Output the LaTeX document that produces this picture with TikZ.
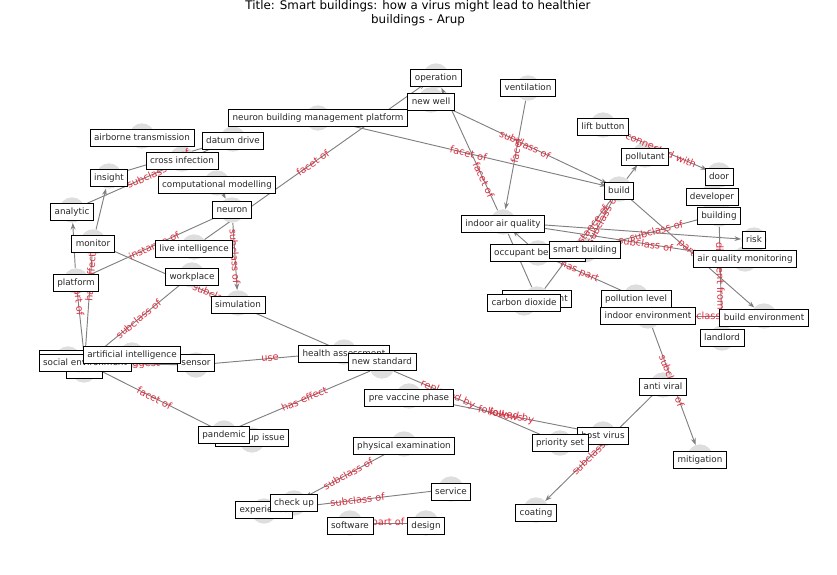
\documentclass[tikz,border=0pt]{standalone}
\usepackage{fontspec}
\setmainfont{DejaVu Sans}
\usetikzlibrary{arrows.meta}

\definecolor{edgegray}{RGB}{128,128,128}
\definecolor{dotgray}{RGB}{222,222,222}
\definecolor{relred}{RGB}{222,45,62}
\definecolor{boxtext}{RGB}{40,40,40}

\pgfdeclarelayer{edgelayer}
\pgfdeclarelayer{dotlayer}
\pgfdeclarelayer{boxlayer}
\pgfsetlayers{edgelayer,dotlayer,main,boxlayer}

\newcommand{\boxfont}{\fontsize{6.6}{7.5}\selectfont}
\newcommand{\relfont}{\fontsize{7.4}{8.5}\selectfont}
\newcommand{\titlefont}{\fontsize{8.9}{10.5}\selectfont}

\tikzset{
	concept/.style={circle, fill=dotgray, inner sep=0pt, minimum size=19pt},
	term/.style={draw=black, fill=white, line width=0.6pt, text=boxtext, font=\boxfont,
		inner xsep=3pt, inner ysep=3.1pt, text height=5pt, text depth=1.5pt},
	rel/.style={draw=edgegray, line width=0.7pt},
	relarrow/.style={rel, -{Stealth[length=5pt, width=3.6pt]}},
	rellabel/.style={text=relred, font=\relfont, sloped, inner sep=0pt},
}

% edge under the dots, label above them
\newcommand{\relate}[5][rel]{%
	\begin{pgfonlayer}{edgelayer}\draw[#1] (#2) -- (#3);\end{pgfonlayer}
	\path (#2) -- node[rellabel, pos=#4] {#5} (#3);}

\begin{document}
\begin{tikzpicture}[x=0.75pt, y=-0.75pt]
	\useasboundingbox (0,0) rectangle (837,574);
	
	% title
	\node[font=\titlefont, align=center] (title) at (418,13)
		{Title: Smart buildings: how a virus might lead to healthier\\buildings - Arup};
	
	% concepts
	\begin{pgfonlayer}{dotlayer}
	\foreach \n/\x/\y in {op/436/76, nw/431/100, vent/528/88, nbmp/318/118,
		air/142/136, dd/233/139, lift/603/125, cross/182/159, poll/645/155,
		ins/109/176, door/719/175, cm/217/183, build/619/189, dev/712/197,
		ana/72/210, neu/232/210, bldg/719/214, iaq/503/222, mon/93/242,
		li/194/247, risk/754/240, occ/538/253, sb/585/250, aqm/745/259,
		work/192/275, plat/76/281, pl/636/297, meas/537/299, co2/524/303,
		sim/238/303, ie/648/316, be/764/316, land/722/338, ha/344/352,
		tech/68/359, health/84/370, se/85/363, sensor/196/365, ai/132/355,
		ns/382/366, av/663/385, pvp/409/396, issue/252/440, pan/224/433,
		pe/404/444, hv/603/434, ps/560/443, mit/700/457, serv/451/489,
		exp/264/511, cu/294/503, coat/536/510, soft/350/523, design/426/523}
		\node[concept] (\n) at (\x,\y) {};
	\end{pgfonlayer}
	
	% relations, top
	\relate[relarrow]{li}{op}{.49}{facet of}
	\relate[relarrow]{nbmp}{build}{.5}{facet of}
	\relate[relarrow]{nw}{build}{.5}{subclass of}
	\relate[relarrow]{iaq}{op}{.25}{facet of}
	\relate[relarrow]{vent}{iaq}{.46}{facet}
	\relate[relarrow]{lift}{door}{.5}{connected with}
	\relate[relarrow]{build}{poll}{.5}{}
	
	% relations, right
	\relate{sb}{build}{.5}{subclass of}
	\relate{meas}{build}{.68}{instance of}
	\relate[relarrow]{build}{be}{.5}{part of}
	\relate{bldg}{land}{.5}{different from}
	\relate{sb}{bldg}{.54}{subclass of}
	\relate[relarrow]{iaq}{risk}{.5}{}
	\relate{iaq}{aqm}{.6}{subclass of}
	\relate[relarrow]{occ}{iaq}{.5}{}
	\relate{iaq}{meas}{.5}{}
	\relate{occ}{pl}{.4}{has part}
	\relate[relarrow]{ie}{mit}{.45}{subclass of}
	\relate{ie}{be}{.5}{subclass of}
	\relate[relarrow]{av}{coat}{.56}{subclass of}
	
	% relations, middle
	\relate{ns}{ps}{.35}{replaced by}
	\relate{pvp}{hv}{.5}{follows}
	\path (pvp) -- node[rellabel, pos=.5] {followed by} (hv);
	\relate{pan}{ns}{.51}{has effect}
	\relate{pan}{issue}{.5}{}
	\relate{ha}{ns}{.5}{}
	\relate{sensor}{ha}{.5}{use}
	\relate{mon}{ha}{.5}{subclass of}
	
	% relations, left
	\relate{se}{pan}{.5}{facet of}
	\relate{se}{sensor}{.5}{suggest}
	\relate{se}{work}{.5}{subclass of}
	\relate{health}{mon}{.78}{has effect}
	\relate{se}{plat}{.91}{part of}
	\relate[relarrow]{mon}{ins}{.5}{}
	\relate[relarrow]{plat}{ana}{.5}{}
	\relate{plat}{neu}{.5}{instance of}
	\relate{ana}{dd}{.5}{subclass of}
	\relate{ins}{dd}{.5}{facet of}
	\relate[relarrow]{cm}{neu}{.5}{}
	\relate[relarrow]{neu}{sim}{.5}{subclass of}
	
	% relations, bottom
	\relate[relarrow]{pe}{cu}{.51}{subclass of}
	\relate{serv}{exp}{.5}{subclass of}
	\relate{soft}{design}{.5}{part of}
	
	% term boxes (later ones lie on top)
	\begin{pgfonlayer}{boxlayer}
	\foreach \n/\x/\y/\t in {op/436/78/operation, nw/431/102/new well,
		vent/528/88/ventilation, nbmp/318/118/neuron building management platform,
		air/142/138/airborne transmission, dd/233/141/datum drive,
		lift/603/127/lift button, cross/182/161/cross infection,
		poll/645/157/pollutant, ins/109/178/insight, door/719/177/door,
		cm/217/185/computational modelling, build/619/191/build,
		dev/712/197/developer, ana/72/212/analytic, neu/232/210/neuron,
		bldg/719/216/building, iaq/503/224/indoor air quality,
		mon/93/244/monitor, li/194/249/live intelligence, risk/754/240/risk,
		occ/538/253/occupant behaviour, sb/585/250/smart building,
		aqm/745/259/air quality monitoring, work/192/277/workplace,
		plat/76/283/platform, pl/636/299/pollution level,
		meas/537/299/measurement, co2/524/303/carbon dioxide,
		sim/238/305/simulation, ie/648/316/indoor environment,
		be/764/318/build environment, land/722/338/landlord,
		ha/344/354/health assessment, tech/68/359/technology,
		health/84/370/health, se/85/363/social environment,
		sensor/196/363/sensor, ai/132/355/artificial intelligence,
		ns/382/362/new standard, av/663/387/anti viral,
		pvp/409/398/pre vaccine phase, issue/252/438/follow up issue,
		pan/224/435/pandemic, pe/404/446/physical examination,
		hv/603/436/host virus, ps/560/443/priority set,
		mit/700/460/mitigation, serv/451/492/service,
		exp/264/510/experience, cu/294/503/check up, coat/536/513/coating,
		soft/350/526/software, design/426/526/design}
		\node[term] (\n-t) at (\x,\y) {\t};
	\end{pgfonlayer}
\end{tikzpicture}
\end{document}
